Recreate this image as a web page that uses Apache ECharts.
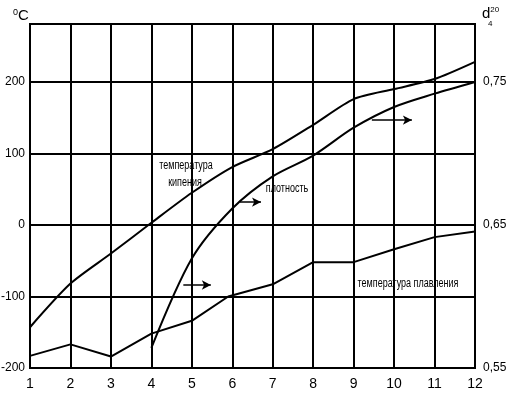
<!DOCTYPE html>
<html>
<head>
<meta charset="utf-8">
<script src="https://cdn.jsdelivr.net/npm/echarts@6/dist/echarts.min.js"></script>
<style>
html,body{margin:0;padding:0;background:#fff;}
#c{width:516px;height:396px;}
</style>
</head>
<body>
<div id="c"></div>
<script>
// X positions (carbon number)
const xTicks = [1,2,3,4,5,6,7,8,9,10,11,12];
// Boiling temperature, °C
const boilX = [1,2,3,4,5,6,7,8,9,10,11,12];
const boilT = [-143,-82,-40,3,45,81,106,140,176,190,204,228];
// Melting temperature, °C
const meltX = [1,2,3,4,5,5.9,7,8,9,10,11,12];
const meltT = [-183,-167,-184,-152,-134,-100,-83,-52,-52,-34,-17,-9];
// Density d4^20
const densX = [4,5,6,7,8,9,10,11,12];
const densD = [0.564,0.6265,0.6615,0.684,0.6985,0.718,0.7325,0.7418,0.75];
// Arrows (density axis pointers)
const arrowX0 = [4.79,6.19,9.45];
const arrowX1 = [5.47,6.71,10.44];
const arrowD = [0.608,0.666,0.7233];
// Right-axis labels
const rightLabels = [0.55,0.65,0.75];

const pairs = (xs, ys) => xs.map((x,i)=>[x, ys[i]]);
const font = '"Liberation Sans",Arial,sans-serif';
const chart = echarts.init(document.getElementById('c'), null, {renderer:'canvas'});
const lineStyle = {color:'#000', width:2};
const txt = (text,x,y) => ({type:'text',x:x,y:y,scaleX:0.75,originX:0,originY:0,
  style:{text:text,fontSize:12,fontFamily:font,fill:'#000',align:'center',verticalAlign:'middle'}});
chart.setOption({
  animation:false,
  backgroundColor:'#fff',
  grid:{left:30,right:41,top:24,bottom:28,containLabel:false,outerBoundsMode:'none',
    show:true,borderColor:'#000',borderWidth:2,backgroundColor:'transparent'},
  xAxis:{type:'value',min:1,max:12,interval:1,
    axisLine:{show:true,lineStyle:{color:'#000',width:2}},
    axisTick:{show:false},
    splitLine:{show:true,lineStyle:{color:'#000',width:2}},
    axisLabel:{color:'#000',fontFamily:font,fontSize:14,margin:9,
      formatter:v=>xTicks.includes(v)?String(v):''}
  },
  yAxis:[
    {type:'value',min:-200,max:281,interval:100,
      axisLine:{show:true,lineStyle:{color:'#000',width:2}},
      axisTick:{show:false},
      splitLine:{show:true,lineStyle:{color:'#000',width:2}},
      axisLabel:{color:'#000',fontFamily:font,fontSize:12,margin:5,
        formatter:v=>(Math.abs(v%100)<1e-6)?String(v):''}
    },
    {type:'value',min:0.55,max:0.7905,interval:0.05,position:'right',
      axisLine:{show:true,lineStyle:{color:'#000',width:2}},
      axisTick:{show:false},
      splitLine:{show:false},
      axisLabel:{color:'#000',fontFamily:font,fontSize:12,margin:8,
        formatter:v=>{
          const hit = rightLabels.find(r=>Math.abs(r-v)<1e-6);
          return hit!==undefined ? hit.toFixed(2).replace('.',',') : '';
        }}
    }
  ],
  series:[
    {type:'line',data:pairs(boilX,boilT),yAxisIndex:0,symbol:'none',smooth:0.25,lineStyle},
    {type:'line',data:pairs(meltX,meltT),yAxisIndex:0,symbol:'none',smooth:false,lineStyle},
    {type:'line',data:pairs(densX,densD),yAxisIndex:1,symbol:'none',smooth:0.3,lineStyle,
      markLine:{silent:true,symbol:['none','arrow'],symbolSize:[7,9],
        lineStyle:{color:'#000',width:1.5,type:'solid'},label:{show:false},
        data:arrowD.map((d,i)=>[{coord:[arrowX0[i],d]},{coord:[arrowX1[i],d]}])}
    }
  ],
  graphic:[
    {type:'text',left:13,top:8,style:{text:'{s|0}{c|C}',rich:{s:{fontSize:9,fontFamily:font,fill:'#000',padding:[0,0,6,0]},c:{fontSize:15,fontFamily:font,fill:'#000'}}}},
    {type:'text',left:482,top:6,style:{text:'{d|d}{s|20}',rich:{d:{fontSize:15,fontFamily:font,fill:'#000'},s:{fontSize:8,fontFamily:font,fill:'#000',padding:[0,0,8,0]}}}},
    {type:'text',left:488,top:20,style:{text:'4',fontSize:8,fontFamily:font,fill:'#000'}},
    txt('температура',186,166),
    txt('кипения',185,183),
    txt('плотность',287,189),
    txt('температура плавления',408,284)
  ]
});
</script>
</body>
</html>
